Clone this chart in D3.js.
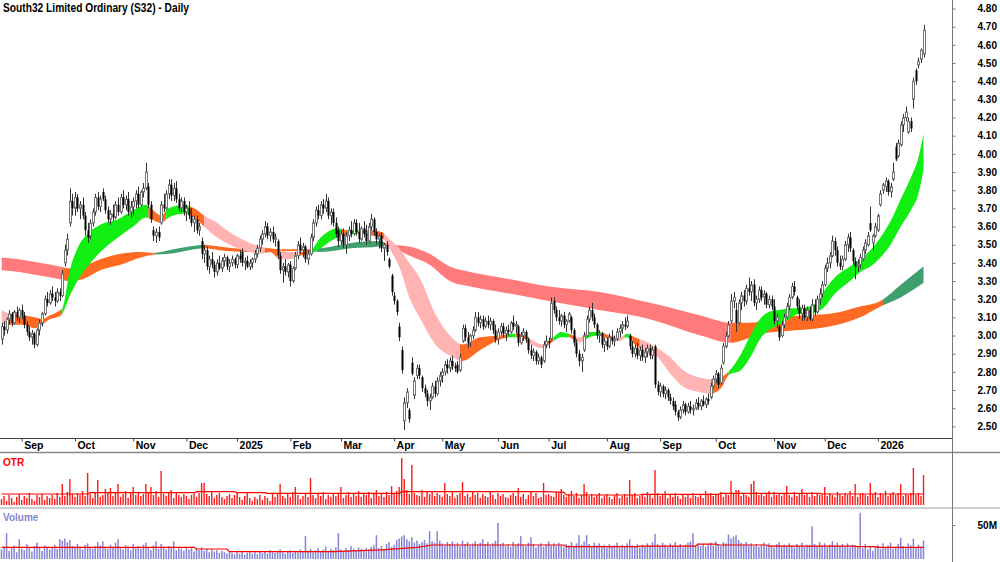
<!DOCTYPE html>
<html>
<head>
<meta charset="utf-8">
<style>
  body { margin: 0; background: #fff; }
  svg text { font-family: "Liberation Sans", Arial, sans-serif; font-weight: bold; }
</style>
<title>South32 Daily</title>
</head>
<body>
<div id="chart"></div>
<script src="https://cdnjs.cloudflare.com/ajax/libs/d3/7.8.5/d3.min.js"></script>
<script>
// candles per month: [open, high, low, close]
var aug24 = [[2.98,3.07,2.95,3.05],[3.05,3.08,3.00,3.03],[3.03,3.10,3.01,3.09],[3.09,3.14,3.06,3.12],[3.12,3.13,3.05,3.07],[3.07,3.14,3.06,3.13],[3.13,3.16,3.08,3.10],[3.10,3.15,3.07,3.14]];
var sep24 = [[3.14,3.17,3.09,3.11],[3.11,3.13,3.04,3.06],[3.06,3.08,3.00,3.02],[3.02,3.05,2.97,2.99],[2.99,3.03,2.95,3.01],[3.01,3.02,2.93,2.95],[2.95,3.04,2.94,3.03],[3.03,3.09,3.00,3.07],[3.07,3.13,3.05,3.12],[3.12,3.22,3.11,3.20],[3.20,3.24,3.16,3.18],[3.18,3.25,3.17,3.23],[3.23,3.27,3.19,3.21],[3.21,3.24,3.16,3.19],[3.19,3.26,3.18,3.24],[3.24,3.26,3.19,3.22],[3.22,3.36,3.21,3.34],[3.40,3.50,3.38,3.47],[3.47,3.56,3.44,3.53],[3.62,3.81,3.60,3.74],[3.74,3.78,3.66,3.70]];
var oct24 = [[3.70,3.79,3.66,3.76],[3.76,3.78,3.68,3.70],[3.70,3.74,3.64,3.72],[3.72,3.76,3.64,3.66],[3.66,3.68,3.55,3.58],[3.58,3.62,3.51,3.54],[3.55,3.64,3.53,3.62],[3.62,3.70,3.60,3.68],[3.68,3.78,3.66,3.76],[3.76,3.79,3.69,3.71],[3.71,3.77,3.68,3.75],[3.79,3.81,3.74,3.75],[3.75,3.77,3.67,3.69],[3.69,3.71,3.62,3.64],[3.64,3.69,3.61,3.67],[3.67,3.72,3.63,3.65],[3.65,3.74,3.64,3.72],[3.72,3.76,3.66,3.68],[3.68,3.78,3.67,3.76],[3.76,3.80,3.70,3.72],[3.72,3.77,3.69,3.75],[3.75,3.79,3.66,3.68],[3.68,3.74,3.65,3.71]];
var nov24 = [[3.71,3.76,3.66,3.74],[3.74,3.80,3.70,3.78],[3.78,3.82,3.70,3.72],[3.72,3.80,3.71,3.79],[3.79,3.84,3.76,3.81],[3.81,3.95,3.80,3.90],[3.82,3.84,3.70,3.72],[3.72,3.74,3.62,3.64],[3.58,3.60,3.52,3.55],[3.55,3.59,3.51,3.57],[3.57,3.60,3.52,3.54],[3.62,3.74,3.61,3.72],[3.72,3.78,3.68,3.70],[3.70,3.80,3.69,3.78],[3.78,3.86,3.75,3.83],[3.83,3.86,3.74,3.77],[3.77,3.84,3.74,3.81],[3.81,3.85,3.73,3.75],[3.75,3.78,3.68,3.70],[3.70,3.76,3.68,3.74],[3.74,3.76,3.66,3.68]];
var dec24 = [[3.68,3.72,3.63,3.70],[3.70,3.74,3.64,3.66],[3.66,3.70,3.60,3.62],[3.62,3.66,3.57,3.64],[3.64,3.66,3.56,3.58],[3.58,3.62,3.55,3.60],[3.52,3.54,3.42,3.45],[3.45,3.50,3.40,3.47],[3.47,3.49,3.36,3.38],[3.38,3.44,3.34,3.42],[3.42,3.46,3.37,3.39],[3.39,3.41,3.32,3.35],[3.35,3.42,3.33,3.40],[3.40,3.44,3.36,3.37],[3.37,3.43,3.35,3.41],[3.41,3.45,3.38,3.43],[3.43,3.44,3.36,3.38],[3.38,3.42,3.35,3.40],[3.40,3.44,3.38,3.42],[3.42,3.43,3.37,3.39]];
var jan25 = [[3.39,3.45,3.37,3.44],[3.44,3.47,3.40,3.42],[3.46,3.48,3.38,3.40],[3.40,3.43,3.36,3.41],[3.41,3.44,3.37,3.38],[3.38,3.42,3.36,3.40],[3.40,3.43,3.37,3.42],[3.42,3.47,3.40,3.45],[3.45,3.50,3.43,3.48],[3.48,3.55,3.46,3.53],[3.53,3.58,3.50,3.56],[3.56,3.63,3.54,3.60],[3.60,3.62,3.53,3.55],[3.55,3.59,3.52,3.57],[3.57,3.60,3.51,3.53],[3.53,3.56,3.49,3.54],[3.52,3.53,3.42,3.44],[3.44,3.46,3.34,3.36],[3.36,3.40,3.29,3.38],[3.38,3.42,3.33,3.35],[3.35,3.40,3.32,3.39]];
var feb25 = [[3.39,3.41,3.27,3.30],[3.30,3.38,3.29,3.37],[3.37,3.46,3.36,3.44],[3.44,3.52,3.42,3.50],[3.50,3.54,3.45,3.47],[3.47,3.51,3.43,3.49],[3.49,3.50,3.40,3.42],[3.42,3.47,3.39,3.45],[3.45,3.56,3.44,3.54],[3.54,3.64,3.52,3.62],[3.62,3.71,3.60,3.69],[3.69,3.72,3.64,3.66],[3.66,3.74,3.64,3.72],[3.72,3.75,3.67,3.70],[3.70,3.78,3.68,3.74],[3.74,3.76,3.64,3.66],[3.66,3.70,3.61,3.68],[3.68,3.70,3.60,3.62],[3.62,3.65,3.54,3.56],[3.58,3.60,3.49,3.52]];
var mar25 = [[3.52,3.58,3.50,3.56],[3.56,3.59,3.48,3.50],[3.50,3.57,3.45,3.55],[3.55,3.60,3.52,3.58],[3.58,3.63,3.54,3.56],[3.56,3.64,3.55,3.62],[3.62,3.64,3.55,3.57],[3.57,3.62,3.51,3.53],[3.53,3.60,3.52,3.59],[3.59,3.63,3.54,3.56],[3.56,3.61,3.50,3.52],[3.52,3.62,3.51,3.60],[3.60,3.67,3.58,3.64],[3.64,3.65,3.55,3.57],[3.57,3.59,3.50,3.53],[3.53,3.56,3.48,3.55],[3.55,3.57,3.46,3.48],[3.48,3.51,3.41,3.50],[3.50,3.52,3.44,3.46],[3.42,3.43,3.37,3.38],[3.33,3.34,3.22,3.24]];
var apr25 = [[3.22,3.24,3.17,3.19],[3.19,3.20,3.11,3.13],[3.05,3.07,2.97,2.99],[2.92,2.94,2.79,2.81],[2.53,2.66,2.48,2.63],[2.63,2.71,2.60,2.69],[2.59,2.60,2.52,2.54],[2.85,2.88,2.78,2.79],[2.67,2.77,2.65,2.75],[2.78,2.84,2.76,2.82],[2.82,2.84,2.76,2.78],[2.77,2.78,2.69,2.71],[2.71,2.73,2.66,2.68],[2.68,2.70,2.61,2.64],[2.64,2.68,2.59,2.66],[2.66,2.74,2.65,2.72],[2.72,2.75,2.66,2.68],[2.68,2.77,2.67,2.75],[2.75,2.80,2.72,2.78]];
var may25 = [[2.78,2.82,2.74,2.80],[2.80,2.86,2.78,2.84],[2.84,2.87,2.79,2.82],[2.82,2.88,2.80,2.86],[2.86,2.89,2.81,2.83],[2.83,2.85,2.80,2.82],[2.84,2.86,2.79,2.80],[2.81,2.90,2.80,2.88],[2.97,3.06,2.96,3.04],[3.04,3.06,2.97,2.99],[2.99,3.02,2.93,2.96],[2.96,3.01,2.94,3.00],[3.00,3.05,2.98,3.03],[3.03,3.13,3.02,3.10],[3.10,3.13,3.05,3.07],[3.07,3.11,3.04,3.09],[3.09,3.11,3.03,3.05],[3.05,3.10,3.04,3.08],[3.08,3.11,3.04,3.06],[3.06,3.10,3.03,3.08],[3.08,3.09,3.01,3.03],[3.03,3.06,2.96,2.98]];
var jun25 = [[2.98,3.04,2.95,3.02],[3.02,3.07,3.00,3.05],[3.05,3.07,2.99,3.01],[3.01,3.05,2.97,3.03],[3.03,3.06,3.00,3.02],[3.02,3.08,3.01,3.07],[3.07,3.11,3.03,3.05],[3.05,3.08,3.01,3.06],[3.05,3.06,2.94,2.96],[2.96,3.02,2.95,3.00],[3.00,3.04,2.97,3.02],[3.02,3.03,2.96,2.98],[2.98,2.99,2.90,2.92],[2.92,2.95,2.87,2.89],[2.89,2.93,2.86,2.91],[2.91,2.92,2.84,2.86],[2.86,2.90,2.84,2.88],[2.88,2.89,2.82,2.84],[2.86,2.97,2.85,2.95],[2.95,3.00,2.93,2.97]];
var jul25 = [[2.97,2.99,2.93,2.96],[2.98,3.21,2.97,3.18],[3.19,3.21,3.12,3.14],[3.14,3.16,3.08,3.10],[3.10,3.14,3.06,3.08],[3.08,3.12,3.05,3.11],[3.11,3.13,3.04,3.06],[3.06,3.09,3.02,3.08],[3.08,3.13,3.07,3.12],[3.10,3.11,3.01,3.03],[3.03,3.04,2.94,2.96],[2.96,2.98,2.88,2.90],[2.90,2.92,2.83,2.86],[2.86,2.90,2.80,2.88],[2.92,3.02,2.91,3.00],[3.00,3.11,2.99,3.09],[3.09,3.16,3.07,3.14],[3.14,3.18,3.08,3.10],[3.10,3.12,3.04,3.06],[3.06,3.07,2.98,3.00],[3.00,3.03,2.96,3.01],[3.01,3.02,2.93,2.95],[2.95,2.99,2.91,2.97]];
var aug25 = [[2.97,2.99,2.92,2.94],[2.94,3.01,2.93,2.99],[2.99,3.03,2.95,2.97],[2.97,3.00,2.94,2.98],[2.98,3.04,2.97,3.02],[3.02,3.06,2.99,3.04],[3.04,3.08,3.01,3.06],[3.06,3.10,3.03,3.05],[3.05,3.11,3.04,3.08],[3.00,3.01,2.92,2.94],[2.94,2.97,2.88,2.90],[2.90,2.95,2.88,2.93],[2.93,2.96,2.87,2.89],[2.89,2.94,2.86,2.92],[2.92,2.95,2.86,2.88],[2.88,2.93,2.85,2.91],[2.91,2.95,2.88,2.93],[2.93,2.95,2.87,2.89],[2.89,2.94,2.87,2.92],[2.94,2.95,2.71,2.73],[2.73,2.75,2.67,2.69]];
var sep25 = [[2.69,2.74,2.66,2.72],[2.72,2.73,2.66,2.68],[2.68,2.72,2.65,2.70],[2.70,2.71,2.64,2.66],[2.66,2.68,2.62,2.64],[2.64,2.66,2.59,2.61],[2.62,2.64,2.56,2.58],[2.58,2.59,2.53,2.55],[2.55,2.61,2.54,2.59],[2.59,2.64,2.57,2.62],[2.62,2.63,2.56,2.58],[2.58,2.63,2.57,2.61],[2.61,2.64,2.57,2.59],[2.59,2.62,2.56,2.60],[2.60,2.65,2.59,2.63],[2.63,2.66,2.59,2.61],[2.61,2.65,2.59,2.64],[2.64,2.67,2.61,2.62],[2.62,2.66,2.60,2.65],[2.65,2.68,2.62,2.64],[2.66,2.74,2.65,2.72],[2.72,2.78,2.71,2.76]];
var oct25 = [[2.76,2.81,2.74,2.79],[2.79,2.80,2.71,2.73],[2.74,2.84,2.73,2.82],[2.85,2.96,2.84,2.94],[2.94,3.02,2.93,3.00],[3.00,3.08,2.99,3.06],[3.08,3.23,3.07,3.19],[3.19,3.24,3.15,3.21],[3.14,3.18,3.02,3.07],[3.07,3.20,3.06,3.18],[3.18,3.24,3.14,3.22],[3.22,3.25,3.16,3.19],[3.19,3.28,3.17,3.26],[3.26,3.32,3.22,3.24],[3.24,3.30,3.19,3.28],[3.28,3.31,3.16,3.18],[3.18,3.22,3.14,3.20],[3.20,3.27,3.18,3.25],[3.25,3.27,3.19,3.21],[3.21,3.25,3.17,3.23],[3.23,3.24,3.15,3.17],[3.17,3.22,3.15,3.20],[3.20,3.22,3.14,3.16]];
var nov25 = [[3.16,3.20,3.06,3.08],[3.08,3.12,3.04,3.10],[3.05,3.06,2.97,2.99],[3.00,3.08,2.99,3.06],[3.06,3.12,3.04,3.10],[3.10,3.18,3.09,3.16],[3.16,3.23,3.14,3.21],[3.21,3.29,3.20,3.27],[3.27,3.30,3.22,3.24],[3.21,3.22,3.14,3.16],[3.16,3.20,3.09,3.12],[3.12,3.17,3.08,3.15],[3.15,3.17,3.08,3.10],[3.10,3.16,3.08,3.14],[3.14,3.16,3.08,3.09],[3.09,3.20,3.08,3.17],[3.17,3.20,3.11,3.13],[3.13,3.22,3.12,3.20],[3.20,3.26,3.17,3.23],[3.23,3.30,3.21,3.28]];
var dec25 = [[3.28,3.39,3.27,3.37],[3.37,3.43,3.35,3.40],[3.40,3.46,3.37,3.44],[3.44,3.55,3.43,3.52],[3.52,3.54,3.44,3.47],[3.47,3.49,3.38,3.40],[3.40,3.44,3.36,3.38],[3.38,3.44,3.36,3.42],[3.42,3.52,3.41,3.50],[3.50,3.56,3.46,3.54],[3.54,3.57,3.46,3.48],[3.47,3.48,3.39,3.41],[3.41,3.43,3.31,3.38],[3.38,3.42,3.35,3.39],[3.39,3.45,3.37,3.43],[3.42,3.49,3.41,3.47],[3.47,3.53,3.45,3.51],[3.50,3.57,3.49,3.55],[3.62,3.71,3.57,3.58],[3.51,3.56,3.47,3.55],[3.55,3.62,3.54,3.60]];
var jan26 = [[3.58,3.67,3.57,3.66],[3.72,3.80,3.71,3.78],[3.80,3.84,3.78,3.83],[3.82,3.87,3.79,3.85],[3.85,3.86,3.77,3.79],[3.79,3.84,3.76,3.82],[3.86,3.95,3.85,3.90],[4.04,4.06,3.96,3.97],[3.99,4.08,3.98,4.06],[4.05,4.18,4.04,4.16],[4.16,4.22,4.12,4.20],[4.20,4.26,4.18,4.23],[4.12,4.20,4.11,4.18],[4.18,4.20,4.12,4.14],[4.30,4.42,4.25,4.40],[4.46,4.47,4.38,4.40],[4.49,4.53,4.47,4.51],[4.52,4.58,4.50,4.57],[4.55,4.71,4.53,4.68]];

var months = [aug24, sep24, oct24, nov24, dec24, jan25, feb25, mar25, apr25, may25, jun25, jul25, aug25, sep25, oct25, nov25, dec25, jan26];
var monthLabels = ["", "Sep", "Oct", "Nov", "Dec", "2025", "Feb", "Mar", "Apr", "May", "Jun", "Jul", "Aug", "Sep", "Oct", "Nov", "Dec", "2026"];
var priceTicks = [2.50, 2.60, 2.70, 2.80, 2.90, 3.00, 3.10, 3.20, 3.30, 3.40, 3.50, 3.60, 3.70, 3.80, 3.90, 4.00, 4.10, 4.20, 4.30, 4.40, 4.50, 4.60, 4.70, 4.80];

// ribbons: [bar, upper, lower]
var shortRibbon = [[0,3.14,3.06],[3,3.12,3.06],[9,3.11,3.06],[13,3.10,3.04],[16,3.09,3.06],[19,3.11,3.09],[22,3.13,3.10],[24,3.15,3.12],[27,3.36,3.22],[30,3.48,3.30],[34,3.56,3.38],[39,3.61,3.46],[46,3.64,3.54],[52,3.69,3.60],[57,3.72,3.65],[59,3.70,3.64],[63,3.66,3.62],[66,3.70,3.65],[72,3.72,3.67],[76,3.70,3.65],[80,3.66,3.60],[84,3.63,3.55],[90,3.57,3.50],[98,3.51,3.46],[102,3.49,3.45],[106,3.48,3.46],[110,3.47,3.42],[114,3.46,3.42],[118,3.46,3.44],[122,3.47,3.45],[126,3.54,3.48],[130,3.58,3.52],[133,3.59,3.54],[136,3.58,3.55],[140,3.58,3.56],[146,3.58,3.55],[150,3.57,3.54],[154,3.52,3.46],[157,3.48,3.38],[161,3.40,3.21],[165,3.32,3.10],[172,3.10,2.94],[177,3.00,2.89],[182,2.95,2.86],[189,2.99,2.92],[197,3.00,2.98],[201,3.01,2.99],[205,3.01,2.99],[209,2.98,2.95],[214,2.95,2.93],[217,2.98,2.96],[221,3.02,2.99],[224,3.01,2.99],[228,2.99,2.96],[232,3.02,2.99],[236,3.02,3.00],[240,3.00,2.98],[244,2.99,2.97],[247,3.01,2.99],[250,2.99,2.95],[254,2.97,2.91],[259,2.93,2.88],[264,2.88,2.79],[269,2.81,2.72],[275,2.77,2.69],[280,2.76,2.68],[284,2.77,2.71],[287,2.80,2.78],[292,2.90,2.81],[296,3.01,2.89],[300,3.10,2.99],[303,3.13,3.03],[307,3.14,3.06],[311,3.15,3.09],[315,3.15,3.12],[319,3.16,3.12],[322,3.18,3.13],[325,3.25,3.16],[329,3.32,3.23],[335,3.38,3.30],[339,3.42,3.35],[343,3.47,3.38],[347,3.54,3.43],[351,3.63,3.50],[355,3.75,3.60],[359,3.87,3.69],[362,3.98,3.78],[364,4.11,3.91]];
var shortStates = [[0,3,"bear"],[3,24,"flat"],[24,58,"bull"],[58,65,"flat"],[65,74,"bull"],[74,80,"flat"],[80,104,"bear"],[104,109,"flat"],[109,117,"bear"],[117,123,"flat"],[123,134,"bull"],[134,138,"flat"],[138,141,"bull"],[141,151,"flat"],[151,181,"bear"],[181,200,"flat"],[200,203,"bull"],[203,207,"flat"],[207,215,"bear"],[215,218,"flat"],[218,224,"bull"],[224,227,"flat"],[227,230,"bear"],[230,237,"bull"],[237,242,"flat"],[242,246,"bear"],[246,249,"bull"],[249,252,"flat"],[252,280,"bear"],[280,287,"flat"],[287,364,"bull"]];
var longRibbon = [[0,3.43,3.36],[7,3.42,3.35],[15,3.40,3.33],[23,3.38,3.31],[27,3.37,3.30],[32,3.38,3.31],[39,3.42,3.36],[47,3.45,3.39],[55,3.46,3.43],[60,3.455,3.445],[66,3.47,3.45],[74,3.49,3.47],[80,3.50,3.48],[86,3.49,3.47],[98,3.475,3.46],[110,3.475,3.465],[122,3.475,3.465],[126,3.48,3.46],[138,3.51,3.48],[149,3.52,3.49],[152,3.51,3.50],[155,3.50,3.48],[161,3.49,3.44],[169,3.45,3.39],[177,3.38,3.30],[185,3.35,3.27],[197,3.32,3.24],[216,3.27,3.19],[236,3.24,3.14],[256,3.18,3.09],[276,3.11,3.00],[288,3.07,2.96],[296,3.07,2.99],[300,3.08,3.01],[315,3.11,3.03],[327,3.12,3.05],[339,3.16,3.10],[347,3.19,3.16],[355,3.28,3.21],[364,3.38,3.29]];
var longStates = [[0,24,"bear"],[24,61,"flat"],[61,80,"bull"],[80,123,"flat"],[123,151,"bull"],[151,155,"flat"],[155,288,"bear"],[288,348,"flat"],[348,364,"bull"]];

// OTR (cents) and volume (millions), one per bar
var otr = [6,9,4,10,7,3,8,11,5,9,7,12,6,4,10,8,11,5,9,7,
  10,6,12,8,21,9,13,26,11,8,12,10,14,9,32,11,7,13,25,8,
  10,16,12,17,9,13,21,8,11,14,7,12,18,10,13,9,11,21,12,18,
  10,14,8,34,11,9,13,15,7,12,10,8,11,9,6,10,13,8,12,22,
  22,11,9,13,7,10,12,8,6,9,11,7,10,13,8,5,9,12,7,4,
  8,6,10,5,9,7,4,11,8,12,21,9,7,11,8,13,18,10,6,9,
  12,8,27,10,7,11,9,13,6,10,8,12,9,11,18,7,10,13,8,12,
  9,14,8,11,10,13,7,12,15,9,11,8,13,10,19,12,14,18,47,26,
  15,11,40,12,10,9,15,8,13,11,14,9,12,10,8,22,11,9,13,7,
  10,12,23,9,11,8,13,10,12,7,11,9,8,13,10,6,12,9,11,8,
  7,10,12,9,17,8,11,6,10,13,9,12,7,8,22,10,11,9,8,13,
  12,16,10,8,11,14,9,12,7,10,21,13,9,11,8,10,12,7,9,11,
  8,6,10,12,7,9,11,8,25,10,12,7,9,11,8,13,10,7,35,12,
  9,11,14,7,10,8,12,9,6,11,8,10,7,12,9,8,11,7,14,10,
  12,9,11,10,13,8,12,10,24,11,15,15,9,12,10,8,21,24,13,10,
  12,9,11,14,8,13,10,12,9,11,19,10,8,13,9,12,16,10,11,8,
  13,9,12,10,11,18,9,12,10,8,13,11,9,12,10,14,9,21,8,11,
  12,10,9,22,11,13,8,12,10,14,9,11,13,10,12,21,9,11,10,12,
  37,10,12,9,30];
var otrAvg = [[0,11],[34,11],[35,12.3],[76,12.3],[77,13.3],[92,13.3],[93,12.3],[104,12.3],[105,11.6],[157,11.6],[158,13.3],[215,13.3],[222,12.6],[223,10],[252,10],[253,10.6],[283,10.6],[284,11.6],[323,11.6],[324,11],[364,11]];
var volume = [14,18,38,12,16,20,10,29,15,13,22,17,11,19,24,16,12,20,18,14,
  17,21,15,29,27,30,25,28,19,16,22,18,14,21,23,17,15,19,25,20,
  26,18,15,21,17,24,29,16,14,20,18,13,22,16,19,15,21,24,17,13,
  20,26,15,22,18,14,19,16,26,13,17,15,12,18,14,16,11,15,13,17,
  12,15,10,14,11,13,9,12,10,8,11,9,7,10,8,12,6,9,11,8,
  10,7,12,9,11,8,13,10,9,12,14,10,8,11,13,9,12,10,14,11,
  34,12,15,10,13,16,11,14,18,12,15,13,17,38,14,12,16,13,19,15,
  13,17,15,12,16,14,18,20,35,16,19,14,22,25,18,21,28,30,33,35,
  29,26,32,24,27,22,25,28,23,41,26,24,41,27,23,20,25,22,26,21,
  24,19,27,22,25,20,23,26,21,24,29,22,25,20,23,27,53,21,24,19,
  22,18,25,20,23,34,21,19,24,32,22,17,20,23,18,21,26,20,23,19,
  24,21,18,22,20,25,19,23,35,21,26,35,22,18,24,20,23,19,21,17,
  22,18,20,24,17,21,19,23,29,20,18,22,17,21,19,23,20,25,37,22,
  19,24,21,18,23,20,25,19,22,17,21,24,26,38,20,23,19,22,18,21,
  24,20,26,22,19,25,23,36,30,33,35,28,24,21,25,20,23,19,22,18,
  21,24,19,23,20,17,22,25,18,21,19,23,20,17,22,19,24,18,21,20,
  48,22,19,25,20,23,18,21,26,20,24,19,22,18,23,17,21,20,19,68,
  16,22,14,19,12,18,21,15,23,17,20,24,15,18,22,31,19,16,23,20,
  30,17,21,18,27];
var volumeAvg = [[0,17.2],[76,17.2],[77,14.7],[89,14.7],[90,10.7],[131,10.7],[150,13.5],[164,17.2],[170,20.6],[222,20.6],[223,18.1],[251,18.1],[252,18.8],[274,18.8],[275,22],[282,22],[283,20.6],[302,20.6],[303,18.8],[337,18.8],[338,18.1],[345,18.1],[346,17.2],[364,17.2]];

// layout
const width = 1000, height = 562,
  axisX = 952,
  priceBottom = 438,
  dateBottom = 452.5,
  otrBottom = 508;

const candles = [].concat.apply([], months);
const monthStart = [];
var n = 0;
months.forEach(function(m) { monthStart.push(n); n += m.length; });

const svg = d3.select("#chart").append("svg")
  .attr("width", width)
  .attr("height", height);

const x = d3.scaleLinear().domain([0, candles.length - 1]).range([1.5, 1.5 + (candles.length - 1) * 2.533]);
const y = d3.scaleLinear().domain([2.436, 4.847]).range([priceBottom, 0]);
const yOtr = d3.scaleLinear().domain([0, 52]).range([505, 453]);
const yVol = d3.scaleLinear().domain([0, 50]).range([559, 525]);

const ribbonColors = {
  short: { bull: "#11ee11", flat: "#ff6a22", bear: "#ffb3b3" },
  long: { bull: "#3fa06e", flat: "#ff6a22", bear: "#ff7b7b" }
};

const defs = svg.append("defs");

function drawRibbon(samples, states, palette, name) {
  var area = d3.area()
    .x(function(d) { return x(d[0]); })
    .y0(function(d) { return y(d[2]); })
    .y1(function(d) { return y(d[1]); })
    .curve(d3.curveMonotoneX);
  var dPath = area(samples);
  var g = svg.append("g");
  states.forEach(function(s, k) {
    var id = name + k;
    var x0 = x(s[0]), x1 = k == states.length - 1 ? x(s[1]) + 1 : x(s[1]);
    defs.append("clipPath").attr("id", id).append("rect")
      .attr("x", x0).attr("y", 0).attr("width", x1 - x0).attr("height", priceBottom);
    g.append("path")
      .attr("d", dPath)
      .attr("fill", palette[s[2]])
      .attr("clip-path", "url(#" + id + ")");
  });
}

drawRibbon(longRibbon, longStates, ribbonColors.long, "lr");
drawRibbon(shortRibbon, shortStates, ribbonColors.short, "sr");

// candles: thin wick, hollow up-body, solid down-body
const cg = svg.append("g");
cg.selectAll("line.wick")
  .data(candles).join("line")
  .attr("class", "wick")
  .attr("x1", function(d, i) { return Math.round(x(i)) + 0.5; })
  .attr("x2", function(d, i) { return Math.round(x(i)) + 0.5; })
  .attr("y1", function(d) { return y(d[1]); })
  .attr("y2", function(d) { return y(d[2]); })
  .attr("stroke", "#333")
  .attr("stroke-width", 1);

cg.selectAll("rect.body")
  .data(candles).join("rect")
  .attr("class", "body")
  .each(function(d, i) {
    var P = Math.round(x(i));
    var top = y(Math.max(d[0], d[3])), bot = y(Math.min(d[0], d[3]));
    var h = Math.max(bot - top, 1);
    var r = d3.select(this);
    if (d[3] >= d[0]) {
      r.attr("x", P - 0.5).attr("width", 2).attr("y", top).attr("height", h)
        .attr("fill", "#fff").attr("stroke", "#777").attr("stroke-width", 1);
    } else {
      r.attr("x", P - 0.5).attr("width", 2).attr("y", top).attr("height", h)
        .attr("fill", "#000");
    }
  });

// OTR panel
svg.append("g").selectAll("rect")
  .data(otr).join("rect")
  .attr("x", function(d, i) { return x(i) - 0.7; })
  .attr("width", 1.4)
  .attr("y", function(d) { return yOtr(d); })
  .attr("height", function(d) { return yOtr(0) - yOtr(d); })
  .attr("fill", "#ff1a1a");

svg.append("path")
  .datum(otrAvg)
  .attr("d", d3.line().x(function(d) { return x(d[0]); }).y(function(d) { return yOtr(d[1]); }))
  .attr("fill", "none")
  .attr("stroke", "#ff0000")
  .attr("stroke-width", 1.2);

// volume panel
svg.append("g").selectAll("rect")
  .data(volume).join("rect")
  .attr("x", function(d, i) { return x(i) - 0.75; })
  .attr("width", 1.5)
  .attr("y", function(d) { return yVol(d); })
  .attr("height", function(d) { return yVol(0) - yVol(d); })
  .attr("fill", "#8585d6");

svg.append("path")
  .datum(volumeAvg)
  .attr("d", d3.line().x(function(d) { return x(d[0]); }).y(function(d) { return yVol(d[1]); }))
  .attr("fill", "none")
  .attr("stroke", "#ff0000")
  .attr("stroke-width", 1.2);

// frame lines
svg.append("line").attr("x1", 0).attr("x2", axisX).attr("y1", priceBottom + 0.5).attr("y2", priceBottom + 0.5).attr("stroke", "#444");
svg.append("line").attr("x1", 0).attr("x2", width).attr("y1", dateBottom).attr("y2", dateBottom).attr("stroke", "#888").attr("stroke-width", 1.5);
svg.append("line").attr("x1", 0).attr("x2", width).attr("y1", otrBottom).attr("y2", otrBottom).attr("stroke", "#999");
svg.append("line").attr("x1", axisX + 0.5).attr("x2", axisX + 0.5).attr("y1", 0).attr("y2", height).attr("stroke", "#777");

// price axis
const gy = svg.append("g")
  .attr("transform", "translate(" + (axisX + 0.5) + ",0)")
  .call(d3.axisRight(y).tickValues(priceTicks).tickFormat(d3.format(".2f")).tickSize(3));
gy.select(".domain").remove();
gy.selectAll("line").attr("stroke", "#777");
gy.selectAll("text").attr("x", 44.5).attr("text-anchor", "end")
  .style("font", "bold 10px 'Liberation Sans', Arial, sans-serif").attr("fill", "#000");

// volume axis
const gv = svg.append("g")
  .attr("transform", "translate(" + (axisX + 0.5) + ",0)")
  .call(d3.axisRight(yVol).tickValues([50]).tickFormat(function(d) { return d + "M"; }).tickSize(3));
gv.select(".domain").remove();
gv.selectAll("line").attr("stroke", "#777");
gv.selectAll("text").attr("x", 44.5).attr("text-anchor", "end")
  .style("font", "bold 10px 'Liberation Sans', Arial, sans-serif").attr("fill", "#000");

// date axis
const gx = svg.append("g")
  .attr("transform", "translate(0," + (priceBottom + 0.5) + ")")
  .call(d3.axisBottom(x).tickValues(monthStart.slice(1)).tickFormat(function(d, k) { return monthLabels[k + 1]; }).tickSize(3));
gx.select(".domain").remove();
gx.selectAll("line").attr("stroke", "#444");
gx.selectAll("text").attr("x", 2).attr("y", 3.5).attr("text-anchor", "start")
  .style("font", "bold 10.5px 'Liberation Sans', Arial, sans-serif").attr("fill", "#000");

// titles
svg.append("text").attr("x", 3).attr("y", 12)
  .attr("textLength", 186).attr("lengthAdjust", "spacingAndGlyphs")
  .style("font-size", "12px").attr("fill", "#000")
  .text("South32 Limited Ordinary (S32) - Daily");
svg.append("text").attr("x", 3).attr("y", 466)
  .style("font-size", "10px").attr("fill", "#ff0000").text("OTR");
svg.append("text").attr("x", 3).attr("y", 521)
  .style("font-size", "10px").attr("fill", "#8686cc").text("Volume");
</script>
</body>
</html>
